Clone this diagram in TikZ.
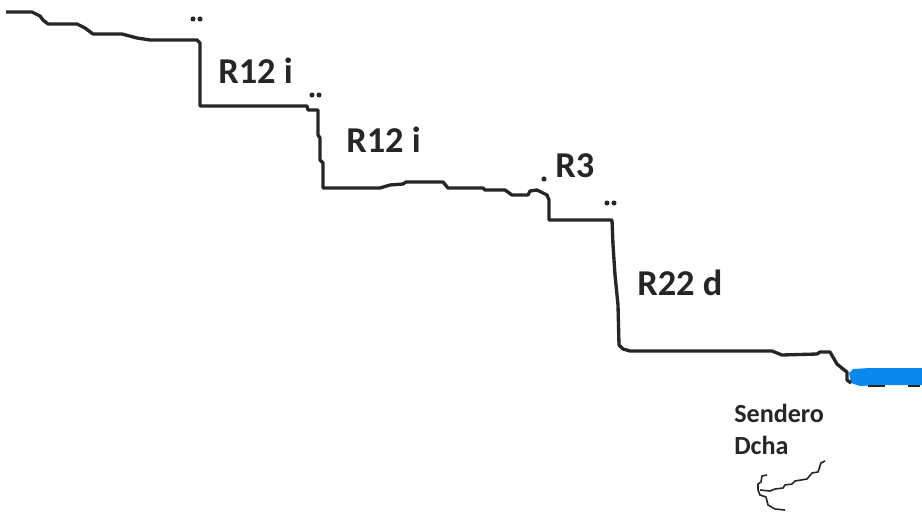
\documentclass[tikz,border=0pt]{standalone}
\usepackage{fontspec}
\setmainfont{Carlito}
\usepackage{tikz}
\definecolor{lineink}{HTML}{262626}
\definecolor{lakeblue}{HTML}{0A88EC}
\tikzset{
  routelabel/.style={anchor=base west,inner sep=0pt,font=\bfseries\fontsize{27.3}{27.3}\selectfont,text=lineink},
  traillabel/.style={anchor=base west,inner sep=0pt,font=\bfseries\fontsize{19.6}{19.6}\selectfont,text=lineink},
  route/.style={draw=lineink,line width=2.5pt,line join=round},
  trail/.style={draw=lineink,line width=1.2pt,line join=round}
}
\begin{document}
\begin{tikzpicture}[x=0.75pt,y=-0.75pt]
\useasboundingbox (0,0) rectangle (922,518);
% lake
\fill[lakeblue] (849,373) -- (853,369) -- (870,368) -- (922,368) -- (922,385) -- (880,385) -- (860,386) -- (851,383) -- cycle;
% route
\draw[route] (6,12) -- (32,12) -- (40,16) -- (43,20) -- (48,24) -- (77,24) -- (85,28) -- (93,34)
  -- (122,34) -- (137,38) -- (150,40) -- (197,40) -- (200,43) -- (200,106) -- (307,106)
  -- (308,110) -- (318,110) -- (318,135) -- (320,138) -- (320,160) -- (323,163) -- (323,188)
  -- (380,188) -- (390,185) -- (403,184) -- (406,182) -- (443,182) -- (448,188) -- (483,188)
  -- (485,190) -- (505,190) -- (512,195) -- (528,195) -- (530,191) -- (537,190) -- (547,195)
  -- (549,200) -- (549,220) -- (612,220) -- (613,245) -- (615,275) -- (618,305) -- (619,345)
  -- (623,349) -- (630,351) -- (772,351) -- (782,355) -- (817,354) -- (820,352) -- (830,352)
  -- (837,364) -- (843,369) -- (847,372) -- (847,380) -- (851,383);
\foreach \xa/\xb in {868/885,908/920} {
\draw[route,line width=1.6pt] (\xa,386) -- (\xb,386);
}
% dots
\foreach \x/\y in {193/19,200/19,312/95,319/95,607/203,614/203,544/179} {
\fill[lineink] (\x,\y) circle (1.9pt);
}
% labels
\node[routelabel] (firstpitch) at (218,83) {R12 i};
\node[routelabel] (secondpitch) at (346,152) {R12 i};
\node[routelabel] (thirdpitch) at (555,177) {R3};
\node[routelabel] (fourthpitch) at (637,295) {R22 d};
\node[traillabel] (trailname) at (734,422) {Sendero};
\node[traillabel] (trailside) at (734,454) {Dcha};
% trail
\draw[trail] (825,461) -- (821,463) -- (818,472) -- (812,473) -- (807,479) -- (795,481) -- (792,484) -- (785,485) -- (783,488) -- (775,489) -- (770,491) -- (760,490);
\draw[trail] (767,475) -- (762,476) -- (761,482) -- (758,484) -- (758,490) -- (760,495) -- (766,497) -- (768,505) -- (775,509) -- (785,510);
\end{tikzpicture}
\end{document}
